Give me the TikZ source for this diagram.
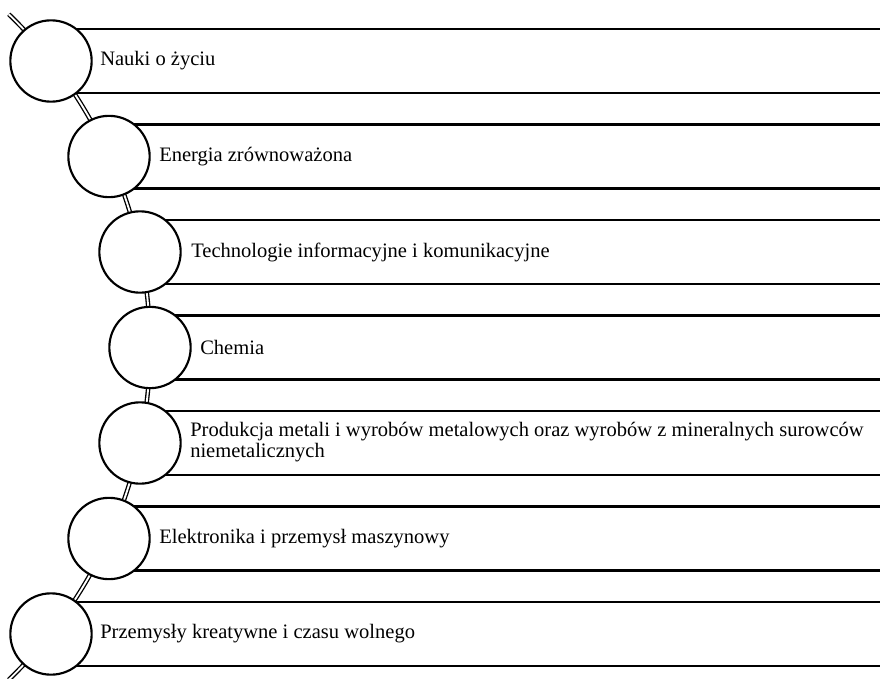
\documentclass[tikz,border=0pt]{standalone}
\usepackage{fontspec}
\setmainfont{Liberation Serif}
\usetikzlibrary{positioning}
\usetikzlibrary{calc}

\begin{document}
\begin{tikzpicture}[x=0.75pt,y=-0.75pt]
	\tikzstyle{band} = [draw,line width=1.6pt,fill=white,rectangle,anchor=west,minimum width=880,minimum height=48pt,inner sep=0pt]
	\tikzstyle{bubble} = [draw,line width=1.6pt,circle,minimum size=61pt,inner sep=0pt,fill=white]
	\tikzstyle{txt} = [anchor=west,align=left,inner sep=0pt,font=\fontsize{15.4}{15.2}\selectfont]
	\tikzstyle{link} = [draw,line width=1pt,double=white,double distance=1.4pt]

	\useasboundingbox (0,0) rectangle (880,678);

	\coordinate (hub) at (-312.6,347);
	\draw[link] (hub) ++(-46:462.6) arc[start angle=-46,end angle=46,radius=462.6];

	\node[band] at (51,61) (b1) {};
	\node[band] at (109,156.5) (b2) {};
	\node[band] at (140,252) (b3) {};
	\node[band] at (150,347.5) (b4) {};
	\node[band] at (140,443) (b5) {};
	\node[band] at (109,538.5) (b6) {};
	\node[band] at (51,634) (b7) {};

	\node[bubble] at (b1.west) (c1) {};
	\node[bubble] at (b2.west) (c2) {};
	\node[bubble] at (b3.west) (c3) {};
	\node[bubble] at (b4.west) (c4) {};
	\node[bubble] at (b5.west) (c5) {};
	\node[bubble] at (b6.west) (c6) {};
	\node[bubble] at (b7.west) (c7) {};

	\node[txt] at ($(c1.center)+(49,0)$) (t1) {Nauki o życiu};
	\node[txt] at ($(c2.center)+(50,0)$) (t2) {Energia zrównoważona};
	\node[txt] at ($(c3.center)+(51,0)$) (t3) {Technologie informacyjne i komunikacyjne};
	\node[txt] at ($(c4.center)+(50,0)$) (t4) {Chemia};
	\node[txt] at ($(c5.center)+(50,-1)$) (t5) {Produkcja metali i wyrobów metalowych oraz wyrobów z mineralnych surowców\\niemetalicznych};
	\node[txt] at ($(c6.center)+(50,0)$) (t6) {Elektronika i przemysł maszynowy};
	\node[txt] at ($(c7.center)+(49,0)$) (t7) {Przemysły kreatywne i czasu wolnego};
\end{tikzpicture}
\end{document}
